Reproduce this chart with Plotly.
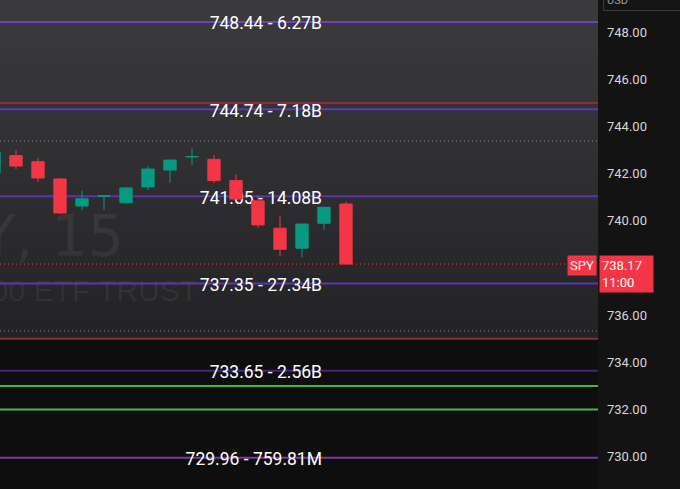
import base64
import struct
import zlib

import plotly.graph_objects as go

# ---------------- data ----------------
bar_index = list(range(17))
opens = [742.03, 742.77, 742.51, 741.78, 740.63, 741.05, 740.77, 741.44, 742.16,
         742.71, 742.61, 741.71, 740.85, 739.69, 738.84, 739.90, 740.72]
highs = [743.00, 743.01, 742.67, 741.82, 741.28, 741.08, 741.45, 742.33, 742.60,
         743.09, 742.80, 741.98, 741.06, 740.21, 739.88, 740.59, 740.82]
lows = [741.95, 742.20, 741.65, 740.29, 740.46, 740.46, 740.72, 741.31, 741.62,
        742.37, 741.61, 740.92, 739.70, 738.51, 738.46, 739.62, 738.17]
closes = [742.92, 742.33, 741.82, 740.34, 740.94, 741.07, 741.40, 742.20, 742.58,
          742.73, 741.71, 740.93, 739.83, 738.80, 739.87, 740.58, 738.17]

level_prices = [748.44, 744.74, 741.05, 737.35, 733.65, 729.96]
level_volumes = ["6.27B", "7.18B", "14.08B", "27.34B", "2.56B", "759.81M"]
level_colors = ["#6a42c6", "#5c3ab0", "#5a34a8", "#5e35b1", "#45247f", "#7a3c98"]

red_levels = [745.0, 735.0]
green_levels = [733.0, 732.0]
dotted_levels = [743.39, 735.33]
shade_floor = 735.0

last_price = 738.17
countdown = "11:00"
symbol = "SPY"
watermark_main = "SPY, 15"
watermark_sub = "SPDR S&P 500 ETF TRUST"

tick_values = [730, 732, 734, 736, 740, 742, 744, 746, 748]
tick_labels = ["730.00", "732.00", "734.00", "736.00", "740.00", "742.00",
               "744.00", "746.00", "748.00"]

# ---------------- layout constants ----------------
X_LO, X_HI = 0.2727, 27.455
Y_LO, Y_HI = 728.63, 749.37
PLOT_W = 598.0

UP = "#089981"
DOWN = "#f23645"


def gradient_png(top, bottom, n=256):
    rows = b""
    for i in range(n):
        t = i / (n - 1)
        px = bytes(round(a + (b - a) * t) for a, b in zip(top, bottom))
        rows += b"\x00" + px

    def chunk(tag, data):
        return (struct.pack(">I", len(data)) + tag + data +
                struct.pack(">I", zlib.crc32(tag + data) & 0xFFFFFFFF))

    ihdr = struct.pack(">IIBBBBB", 1, n, 8, 2, 0, 0, 0)
    png = (b"\x89PNG\r\n\x1a\n" + chunk(b"IHDR", ihdr) +
           chunk(b"IDAT", zlib.compress(rows)) + chunk(b"IEND", b""))
    return "data:image/png;base64," + base64.b64encode(png).decode()


fig = go.Figure()

shapes = []


def hline(y, color, width=2, dash="solid"):
    shapes.append(dict(type="line", xref="paper", x0=0, x1=1, yref="y",
                       y0=y, y1=y, layer="below",
                       line=dict(color=color, width=width, dash=dash)))


def text_shape(y, x_right_px, text, size, color, family):
    shapes.append(dict(type="line", xref="paper", x0=0, x1=x_right_px / PLOT_W,
                       yref="y", y0=y, y1=y, layer="below",
                       line=dict(color="rgba(0,0,0,0)", width=0),
                       label=dict(text=text, textposition="end", xanchor="right",
                                  yanchor="middle", padding=0, textangle=0,
                                  font=dict(size=size, color=color,
                                            family=family))))


# watermark
text_shape(739.55, 124, watermark_main, 57, "rgba(255,255,255,0.06)",
           "DejaVu Sans")
text_shape(737.18, 198, watermark_sub, 30, "rgba(255,255,255,0.06)",
           "Liberation Sans")

for lv in dotted_levels:
    hline(lv, "#85858a", 1, "1px,3px")
for lv in red_levels:
    hline(lv, "#8e2c3c", 2)
for lv in green_levels:
    hline(lv, "#4caf50", 2)
for lv, col in zip(level_prices, level_colors):
    hline(lv, col, 2)
hline(last_price, DOWN, 1, "1px,3px")

for lv, vol in zip(level_prices, level_volumes):
    text_shape(lv, 322, f"{lv:.2f} - {vol}", 17.5, "#ffffff", "Roboto")

# candles
fig.add_trace(go.Candlestick(
    x=bar_index, open=opens, high=highs, low=lows, close=closes,
    increasing=dict(line=dict(color=UP, width=1), fillcolor=UP),
    decreasing=dict(line=dict(color=DOWN, width=1), fillcolor=DOWN),
    whiskerwidth=0, hoverinfo="skip"))

# price labels on the right
fig.add_annotation(x=1.0, xref="paper", y=last_price, yref="y",
                   xanchor="left", yanchor="top", yshift=9, xshift=1,
                   text=f"{last_price:.2f}<br>{countdown}", align="left",
                   showarrow=False, bgcolor=DOWN, borderpad=2, width=49,
                   font=dict(family="Roboto", size=13, color="#ffffff"))
fig.add_annotation(x=1.0, xref="paper", y=last_price, yref="y",
                   xanchor="right", yanchor="top", yshift=9, xshift=-1,
                   text=symbol, showarrow=False, bgcolor=DOWN, borderpad=2,
                   font=dict(family="Roboto", size=13, color="#ffffff"))
fig.add_annotation(x=1.0, xref="paper", y=1.0, yref="paper",
                   xanchor="left", yanchor="bottom", xshift=5, yshift=-11,
                   text="USD", showarrow=False, bgcolor="#141414",
                   bordercolor="#3a3a3a", borderwidth=1, borderpad=3, width=70,
                   align="left",
                   font=dict(family="Roboto", size=11, color="#9a9a9a"))

fig.update_layout(
    width=680, height=489,
    margin=dict(l=0, r=82, t=0, b=0),
    paper_bgcolor="#131313", plot_bgcolor="#0e0e0e",
    showlegend=False, boxgap=0.2,
    shapes=shapes,
    images=[dict(source=gradient_png((59, 59, 62), (35, 35, 38)),
                 xref="paper", x=0, sizex=1, xanchor="left",
                 yref="y", y=Y_HI, sizey=Y_HI - shade_floor, yanchor="top",
                 sizing="stretch", layer="below")],
    xaxis=dict(range=[X_LO, X_HI], visible=False, rangeslider=dict(visible=False),
               fixedrange=True),
    yaxis=dict(range=[Y_LO, Y_HI], side="right", showgrid=False, zeroline=False,
               showline=False, ticks="", tickvals=tick_values,
               ticktext=tick_labels, ticklabelstandoff=8,
               tickfont=dict(family="Roboto", size=13, color="#d6d6d6"),
               fixedrange=True),
)

fig.write_html("out.html", config={"displayModeBar": False},
               post_script="document.body.style.margin='0px';")
